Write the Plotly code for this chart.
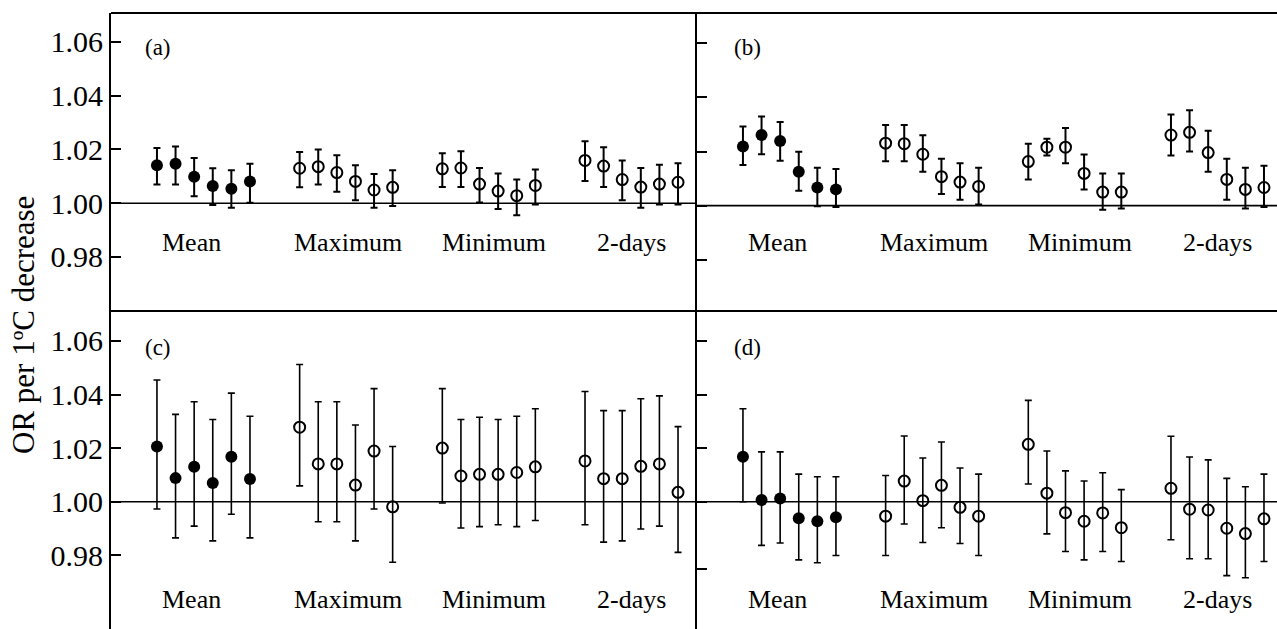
import plotly.graph_objects as go

groups = ["Mean", "Maximum", "Minimum", "2-days"]
n_per_group = 6
filled_group = "Mean"

# panel (a)
a_est = [1.0141, 1.0147, 1.0098, 1.0064, 1.0054, 1.0081,
         1.0130, 1.0136, 1.0114, 1.0081, 1.0049, 1.0059,
         1.0128, 1.0131, 1.0071, 1.0045, 1.0028, 1.0066,
         1.0159, 1.0138, 1.0088, 1.0060, 1.0071, 1.0078]
a_lo = [1.0070, 1.0070, 1.0026, 0.9993, 0.9983, 1.0002,
        1.0059, 1.0070, 1.0043, 1.0011, 0.9983, 0.9990,
        1.0060, 1.0060, 1.0003, 0.9978, 0.9955, 0.9995,
        1.0083, 1.0060, 1.0011, 0.9983, 0.9995, 0.9995]
a_hi = [1.0205, 1.0211, 1.0168, 1.0130, 1.0123, 1.0147,
        1.0190, 1.0200, 1.0178, 1.0141, 1.0109, 1.0123,
        1.0186, 1.0193, 1.0131, 1.0110, 1.0088, 1.0125,
        1.0230, 1.0208, 1.0159, 1.0131, 1.0143, 1.0149]

# panel (b)
b_est = [1.0219, 1.0261, 1.0239, 1.0125, 1.0067, 1.0060,
         1.0231, 1.0229, 1.0190, 1.0107, 1.0087, 1.0071,
         1.0163, 1.0216, 1.0216, 1.0119, 1.0050, 1.0050,
         1.0261, 1.0271, 1.0196, 1.0097, 1.0060, 1.0067]
b_lo = [1.0150, 1.0190, 1.0166, 1.0055, 0.9998, 0.9995,
        1.0164, 1.0164, 1.0125, 1.0043, 1.0022, 1.0004,
        1.0097, 1.0185, 1.0157, 1.0060, 0.9985, 0.9989,
        1.0185, 1.0200, 1.0125, 1.0022, 0.9989, 0.9995]
b_hi = [1.0293, 1.0330, 1.0309, 1.0199, 1.0140, 1.0135,
        1.0298, 1.0298, 1.0260, 1.0173, 1.0157, 1.0140,
        1.0229, 1.0247, 1.0287, 1.0189, 1.0119, 1.0119,
        1.0337, 1.0353, 1.0277, 1.0173, 1.0140, 1.0147]

# panel (c)
c_est = [1.0206, 1.0088, 1.0130, 1.0070, 1.0168, 1.0085,
         1.0278, 1.0141, 1.0141, 1.0062, 1.0189, 0.9981,
         1.0200, 1.0096, 1.0102, 1.0102, 1.0109, 1.0130,
         1.0152, 1.0086, 1.0086, 1.0132, 1.0141, 1.0035]
c_lo = [0.9973, 0.9865, 0.9909, 0.9854, 0.9953, 0.9865,
        1.0059, 0.9925, 0.9925, 0.9854, 0.9973, 0.9774,
        0.9995, 0.9902, 0.9907, 0.9914, 0.9907, 0.9930,
        0.9914, 0.9849, 0.9854, 0.9898, 0.9909, 0.9811]
c_hi = [1.0454, 1.0326, 1.0373, 1.0307, 1.0405, 1.0319,
        1.0512, 1.0373, 1.0373, 1.0286, 1.0422, 1.0206,
        1.0422, 1.0307, 1.0315, 1.0307, 1.0319, 1.0347,
        1.0411, 1.0340, 1.0340, 1.0384, 1.0395, 1.0280]

# panel (d)
d_est = [1.0168, 1.0006, 1.0012, 0.9938, 0.9927, 0.9942,
         0.9946, 1.0077, 1.0004, 1.0061, 0.9979, 0.9946,
         1.0214, 1.0032, 0.9959, 0.9927, 0.9958, 0.9903,
         1.0050, 0.9972, 0.9969, 0.9901, 0.9881, 0.9936]
d_lo = [1.0000, 0.9837, 0.9846, 0.9783, 0.9772, 0.9799,
        0.9799, 0.9917, 0.9848, 0.9903, 0.9844, 0.9799,
        1.0066, 0.9880, 0.9814, 0.9783, 0.9814, 0.9777,
        0.9858, 0.9787, 0.9787, 0.9724, 0.9716, 0.9777]
d_hi = [1.0347, 1.0186, 1.0186, 1.0103, 1.0093, 1.0093,
        1.0098, 1.0245, 1.0163, 1.0223, 1.0126, 1.0103,
        1.0378, 1.0189, 1.0115, 1.0077, 1.0108, 1.0045,
        1.0244, 1.0167, 1.0156, 1.0087, 1.0056, 1.0103]

panel_labels = ["(a)", "(b)", "(c)", "(d)"]
y_ticks = [1.06, 1.04, 1.02, 1.00, 0.98]
y_ticks_d = [1.06, 1.04, 1.02, 1.00, 0.975]
y_title = "OR per 1ºC decrease"

# ---- layout / style constants ----
W, H = 1277, 629
ML, MT = 111, 13
PW, PH = W - ML, H - MT
GROUP_GAP = 7.67
LABEL_SHIFT = [-0.66, 0.08, 0.28, 0.0]
split_frac = (H - 311) / PH
xa_frac = 586 / PW
x_range_a = [-2.47, 29.03]
x_range_b = [-2.47, 28.71]
FONT = "Liberation Serif"

xpos = [g * GROUP_GAP + i for g in range(len(groups)) for i in range(n_per_group)]
is_filled = [groups[g] == filled_group for g in range(len(groups)) for i in range(n_per_group)]

panels = [
    dict(est=a_est, lo=a_lo, hi=a_hi, xa="x", ya="y", top=True, xr=x_range_a, yr=[0.95989, 1.07076], ticks=y_ticks, lab=True),
    dict(est=b_est, lo=b_lo, hi=b_hi, xa="x2", ya="y2", top=True, xr=x_range_b, yr=[0.9610, 1.07126], ticks=y_ticks, lab=False),
    dict(est=c_est, lo=c_lo, hi=c_hi, xa="x3", ya="y3", top=False, xr=x_range_a, yr=[0.9525, 1.07116], ticks=y_ticks, lab=True),
    dict(est=d_est, lo=d_lo, hi=d_hi, xa="x4", ya="y4", top=False, xr=x_range_b, yr=[0.9525, 1.07116], ticks=y_ticks_d, lab=False),
]

fig = go.Figure()
for p in panels:
    lw = 2.0 if p["top"] else 1.6
    for filled in (True, False):
        idx = [k for k in range(len(xpos)) if is_filled[k] == filled]
        xs = [xpos[k] for k in idx]
        ys = [p["est"][k] for k in idx]
        up = [p["hi"][k] - p["est"][k] for k in idx]
        dn = [p["est"][k] - p["lo"][k] for k in idx]
        fig.add_trace(go.Scatter(
            x=xs, y=ys, mode="markers", xaxis=p["xa"], yaxis=p["ya"],
            showlegend=False,
            error_y=dict(type="data", symmetric=False, array=up, arrayminus=dn,
                         color="black", thickness=lw, width=3.5),
            marker=dict(symbol="circle" if filled else "circle-open",
                        size=12 if filled else 11,
                        color="black",
                        line=dict(color="black", width=2 if not filled else 0)),
        ))

def axname(ref):
    return ref.replace("x", "xaxis").replace("y", "yaxis")

layout = dict(
    width=W, height=H, paper_bgcolor="white", plot_bgcolor="white",
    margin=dict(l=ML, r=0, t=MT, b=0),
    font=dict(family=FONT, color="black"),
    showlegend=False,
)
for i, p in enumerate(panels):
    left = i % 2 == 0
    xd = [0, xa_frac] if left else [xa_frac, 1]
    yd = [split_frac, 1] if p["top"] else [0, split_frac]
    layout[axname(p["xa"]) if p["xa"] != "x" else "xaxis"] = dict(
        domain=xd, range=p["xr"], visible=False, anchor=p["ya"])
    layout[axname(p["ya"]) if p["ya"] != "y" else "yaxis"] = dict(
        domain=yd, range=p["yr"], anchor=p["xa"],
        showline=True, linecolor="black", linewidth=2,
        ticks="inside", ticklen=10, tickwidth=1.5, tickcolor="black",
        tickvals=p["ticks"], tickformat=".2f",
        showticklabels=p["lab"], tickfont=dict(family=FONT, size=30, color="black"),
        ticklabelstandoff=0,
        showgrid=False, zeroline=False)

fig.update_layout(**layout)

shapes = [
    dict(type="line", xref="paper", yref="paper", x0=0, x1=1, y0=1, y1=1,
         line=dict(color="black", width=2)),
    dict(type="line", xref="paper", yref="paper", x0=0, x1=1, y0=split_frac, y1=split_frac,
         line=dict(color="black", width=2)),
]
for p in panels:
    shapes.append(dict(type="line", xref=p["xa"] + " domain", yref=p["ya"],
                       x0=0, x1=1, y0=1.0, y1=1.0, line=dict(color="black", width=1.6)))
fig.update_layout(shapes=shapes)

annotations = []
for i, p in enumerate(panels):
    ylab = 0.627 if p["top"] else 0.0487
    for g, name in enumerate(groups):
        cx = g * GROUP_GAP + (n_per_group - 1) / 2 + LABEL_SHIFT[g]
        annotations.append(dict(text=name, x=cx, xref=p["xa"], y=ylab, yref="paper",
                                showarrow=False, xanchor="center", yanchor="middle",
                                font=dict(family=FONT, size=26, color="black")))
    px_x = 157.5 if i % 2 == 0 else 747.5
    px_y = 47 if p["top"] else 348
    annotations.append(dict(text=panel_labels[i], x=(px_x - ML) / PW, xref="paper",
                            y=(H - px_y) / PH, yref="paper", showarrow=False,
                            xanchor="center", yanchor="middle",
                            font=dict(family=FONT, size=23, color="black")))
annotations.append(dict(text=y_title, x=(23 - ML) / PW, xref="paper",
                        y=(H - 325) / PH, yref="paper", showarrow=False, textangle=-90,
                        xanchor="center", yanchor="middle",
                        font=dict(family=FONT, size=31, color="black")))
fig.update_layout(annotations=annotations)

fig.write_html("out.html",
               config={"displayModeBar": False},
               post_script="document.body.style.margin='0';document.body.style.padding='0';"
                           "document.body.style.overflow='hidden';"
                           "document.documentElement.style.overflow='hidden';")
